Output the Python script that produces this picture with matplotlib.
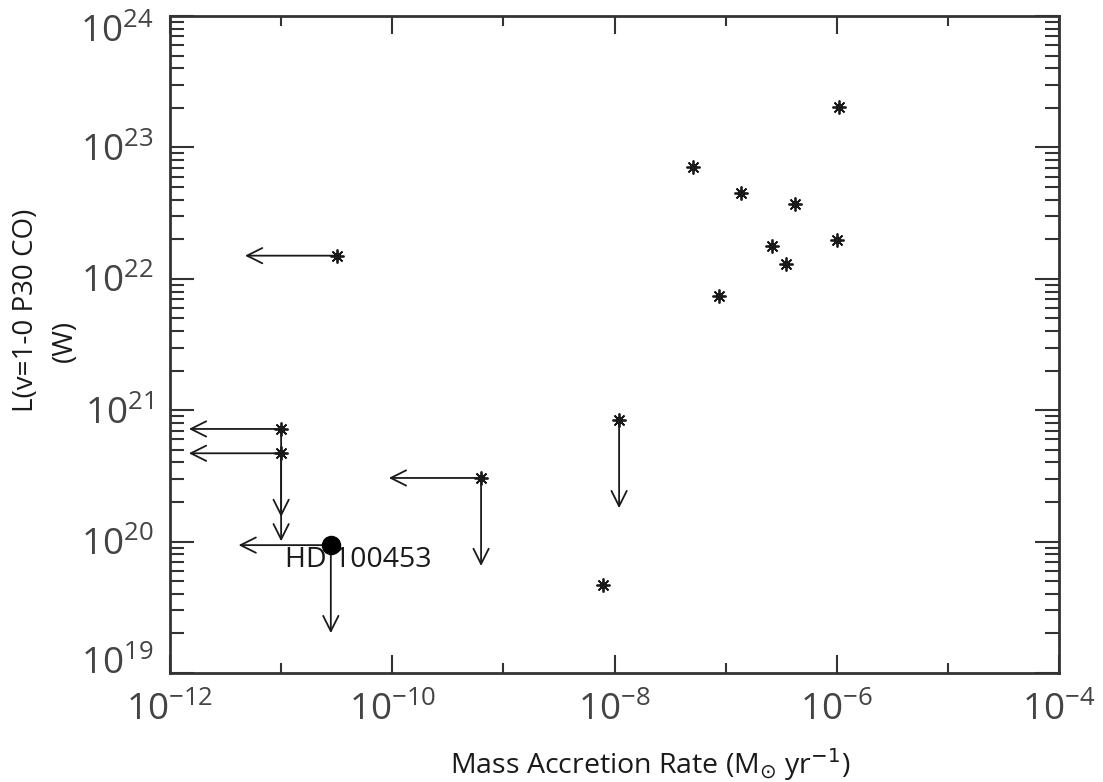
import numpy as np
import matplotlib
matplotlib.use("Agg")
import matplotlib.pyplot as plt
import matplotlib.transforms as mtransforms
from matplotlib.ticker import LogLocator, FixedLocator, NullFormatter

plt.rcParams['font.family'] = ['Open Sans', 'DejaVu Sans']
plt.rcParams['mathtext.fontset'] = 'custom'
plt.rcParams['mathtext.rm'] = 'Lato:light'
plt.rcParams['mathtext.it'] = 'Lato:light'

# detected sources (accretion rate, CO luminosity)
det_x = [1.05e-6, 5.1e-8, 1.38e-7, 4.2e-7, 2.6e-7, 1.0e-6, 3.5e-7, 8.7e-8, 7.8e-9]
det_y = [2.03e23, 7.1e22, 4.5e22, 3.7e22, 1.78e22, 1.97e22, 1.3e22, 7.4e21, 4.7e19]

# upper limits
lim_x = [3.2e-11, 1.0e-11, 1.0e-11, 6.3e-10, 1.1e-8]
lim_y = [1.5e22, 7.2e20, 4.7e20, 3.05e20, 8.4e20]
lim_left = [True, True, True, True, False]
lim_down = [False, True, True, True, True]

# HD 100453
hd_x = 2.8e-11
hd_y = 9.4e19
hd_name = "HD 100453"

LEFT_DEX = 0.83
DOWN_DEX = 0.67
col = '#1a1a1a'

fig = plt.figure(figsize=(11.03, 7.82), dpi=100)
ax = fig.add_axes([170/1103, 1-673/782, (1059-170)/1103, (673-16)/782])
ax.set_xscale('log')
ax.set_yscale('log')
ax.set_xlim(1e-12, 1e-4)
ax.set_ylim(1e19, 1e24)

arrow = dict(arrowstyle='->,head_length=1.1,head_width=0.55', color=col, lw=1.3,
             shrinkA=0, shrinkB=0)

def limit_arrows(x, y, left, down):
    if left:
        ax.annotate('', xy=(x / 10**LEFT_DEX, y), xytext=(x, y), arrowprops=arrow)
    if down:
        ax.annotate('', xy=(x, y / 10**DOWN_DEX), xytext=(x, y), arrowprops=arrow)

for x, y, l, d in zip(lim_x, lim_y, lim_left, lim_down):
    limit_arrows(x, y, l, d)
limit_arrows(hd_x, hd_y, True, True)

allx = det_x + lim_x
ally = det_y + lim_y
ax.plot(allx, ally, ls='none', marker=(8, 2, 0), ms=10, mew=1.3, color=col, zorder=5)
ax.plot(allx, ally, ls='none', marker='o', ms=4.5, color=col, zorder=6)
ax.plot([hd_x], [hd_y], ls='none', marker='o', ms=13, color='black', zorder=6)
ax.annotate(hd_name, xy=(hd_x, hd_y), xytext=(-46, -15), textcoords='offset pixels',
            ha='left', va='center', fontsize=20.5, color=col, zorder=1)

# ticks
ax.xaxis.set_major_locator(FixedLocator([1e-12, 1e-10, 1e-8, 1e-6, 1e-4]))
ax.xaxis.set_minor_locator(FixedLocator([1e-11, 1e-9, 1e-7, 1e-5]))
ax.xaxis.set_minor_formatter(NullFormatter())
ax.yaxis.set_major_locator(LogLocator(base=10, numticks=10))
ax.yaxis.set_minor_locator(LogLocator(base=10, subs=np.arange(2, 10), numticks=20))
ax.yaxis.set_minor_formatter(NullFormatter())
ax.tick_params(axis='x', which='major', direction='in', length=13, width=1.5,
               top=True, pad=14, labelsize=26.5, color='#333333', labelcolor='#444444')
ax.tick_params(axis='x', which='minor', direction='in', length=7, width=1.5, top=True,
               color='#333333')
ax.tick_params(axis='y', which='major', direction='in', length=17, width=1.5,
               right=True, pad=12, labelsize=26.5, color='#333333', labelcolor='#444444')
ax.tick_params(axis='y', which='minor', direction='in', length=10, width=1.5, right=True,
               color='#333333')
for s in ax.spines.values():
    s.set_linewidth(2)
    s.set_color('#333333')

fig.text(650/1103, 1-765/782, r'Mass Accretion Rate (M$_{\odot}$ yr$^{-1}$)',
         ha='center', va='center', fontsize=20.5, color=col, math_fontfamily='dejavusans')
fig.text(26/1103, 1-310/782, 'L(v=1-0 P30 CO)', rotation=90,
         ha='center', va='center', fontsize=20, color=col)
fig.text(65/1103, 1-341/782, '(W)', rotation=90,
         ha='center', va='center', fontsize=20, color=col)

# keep the end labels of the y axis inside the frame
fig.canvas.draw()
for tick in ax.yaxis.get_major_ticks():
    v = tick.get_loc()
    if np.isclose(v, 1e24):
        dy = -12
    elif np.isclose(v, 1e19):
        dy = 13
    else:
        continue
    off = mtransforms.ScaledTranslation(0, dy / 100, fig.dpi_scale_trans)
    tick.label1.set_transform(tick.label1.get_transform() + off)

fig.savefig('out.png', dpi=100)
